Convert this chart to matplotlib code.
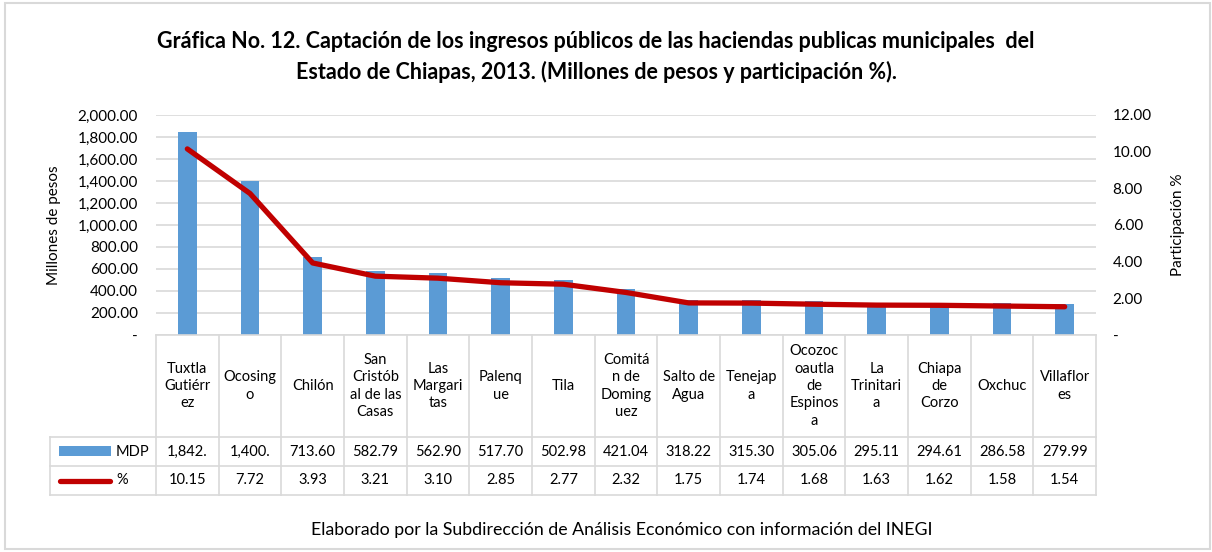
import matplotlib
matplotlib.use("Agg")
import matplotlib.pyplot as plt
from matplotlib.patches import Rectangle
from matplotlib.lines import Line2D

# data
municipios = ["Tuxtla\nGutiérr\nez", "Ocosing\no", "Chilón", "San\nCristób\nal de las\nCasas",
              "Las\nMargari\ntas", "Palenq\nue", "Tila", "Comitá\nn de\nDoming\nuez",
              "Salto de\nAgua", "Tenejap\na", "Ocozoc\noautla\nde\nEspinos\na",
              "La\nTrinitari\na", "Chiapa\nde\nCorzo", "Oxchuc", "Villaflor\nes"]
mdp = [1842.00, 1400.00, 713.60, 582.79, 562.90, 517.70, 502.98, 421.04,
       318.22, 315.30, 305.06, 295.11, 294.61, 286.58, 279.99]
pct = [10.15, 7.72, 3.93, 3.21, 3.10, 2.85, 2.77, 2.32, 1.75, 1.74, 1.68, 1.63, 1.62, 1.58, 1.54]
left_ticks = [0, 200, 400, 600, 800, 1000, 1200, 1400, 1600, 1800, 2000]
right_ticks = [0, 2, 4, 6, 8, 10, 12]

W, H = 1212, 552
BLUE = "#5B9BD5"
RED = "#C00000"
GRID = "#D9D9D9"
TXT = "#000000"
plt.rcParams["font.family"] = ["Lato", "DejaVu Sans"]

fig = plt.figure(figsize=(W / 100, H / 100), dpi=100)


def fx(px):
    return px / W


def fy(py):
    return 1 - py / H


# outer chart border
fig.add_artist(Rectangle((fx(5), fy(549)), fx(1205), 546 / H, transform=fig.transFigure,
                         fill=False, edgecolor="#D9D9D9", linewidth=1.5))

x0, x1, ytop, ybot = 156, 1096, 115, 335
ax = fig.add_axes([fx(x0), fy(ybot), fx(x1 - x0), (ybot - ytop) / H])
xs = list(range(len(mdp)))
ax.bar(xs, mdp, width=0.3, color=BLUE, zorder=2)
ax.set_xlim(-0.5, len(mdp) - 0.5)
ax.set_ylim(0, 2000)
ax.set_yticks(left_ticks)
ax.set_yticklabels(["-" if t == 0 else f"{t:,.2f}" for t in left_ticks])
ax.yaxis.grid(True, color=GRID, linewidth=1.2, zorder=0)
ax.set_axisbelow(True)
ax.set_xticks([])
ax.tick_params(axis="y", length=0, pad=13, labelsize=11, labelcolor=TXT)
for s in ax.spines.values():
    s.set_visible(False)
ax.set_ylabel("Millones de pesos", fontsize=11, labelpad=12, color=TXT)

ax2 = ax.twinx()
ax2.plot(xs, pct, color=RED, linewidth=3.8, solid_capstyle="round", solid_joinstyle="round", zorder=3)
ax2.set_ylim(0, 12)
ax2.set_yticks(right_ticks)
ax2.set_yticklabels(["-" if t == 0 else f"{t:.2f}" for t in right_ticks])
ax2.tick_params(axis="y", length=0, pad=12, labelsize=11, labelcolor=TXT)
for s in ax2.spines.values():
    s.set_visible(False)
ax2.set_ylabel("Participación %", fontsize=11, labelpad=14, color=TXT)

# data table below the plot
col_w = (x1 - x0) / len(mdp)
r0, r1, r2, r3 = 335, 437, 466, 495
lk = dict(transform=fig.transFigure, color=GRID, linewidth=1.2)
fig.add_artist(Line2D([fx(x0), fx(x1)], [fy(r0), fy(r0)], **lk))
for y in (r1, r2, r3):
    fig.add_artist(Line2D([fx(50), fx(x1)], [fy(y), fy(y)], **lk))
fig.add_artist(Line2D([fx(50), fx(50)], [fy(r1), fy(r3)], **lk))
for i in range(len(mdp) + 1):
    xc = x0 + i * col_w
    fig.add_artist(Line2D([fx(xc), fx(xc)], [fy(r0), fy(r3)], **lk))

tk = dict(transform=fig.transFigure, ha="center", va="center", fontsize=10.5, color=TXT)
for i, (name, v, p) in enumerate(zip(municipios, mdp, pct)):
    cx = fx(x0 + (i + 0.5) * col_w)
    fig.text(cx, fy((r0 + r1) / 2), name, linespacing=1.3, **tk)
    fig.text(cx, fy((r1 + r2) / 2), f"{v:,.2f}"[:6], **tk)
    fig.text(cx, fy((r2 + r3) / 2), f"{p:.2f}", **tk)

# legend keys in the table
fig.add_artist(Rectangle((fx(59), fy(456)), fx(52), 10 / H, transform=fig.transFigure,
                         facecolor=BLUE, edgecolor="none"))
fig.text(fx(116), fy(452), "MDP", transform=fig.transFigure, ha="left", va="center",
         fontsize=10.5, color=TXT)
fig.add_artist(Line2D([fx(60), fx(110)], [fy(481), fy(481)], transform=fig.transFigure,
                      color=RED, linewidth=3.8, solid_capstyle="round"))
fig.text(fx(116), fy(480), "%", transform=fig.transFigure, ha="left", va="center",
         fontsize=10.5, color=TXT)

fig.text(fx(596), fy(42), "Gráfica No. 12. Captación de los ingresos públicos de las haciendas publicas municipales  del",
         ha="center", va="center", fontsize=15.5, fontweight="bold", color=TXT)
fig.text(fx(596), fy(72), "Estado de Chiapas, 2013. (Millones de pesos y participación %).",
         ha="center", va="center", fontsize=15.5, fontweight="bold", color=TXT)
fig.text(fx(622), fy(530), "Elaborado por la Subdirección de Análisis Económico con información del INEGI",
         ha="center", va="center", fontsize=12.8, color=TXT)

fig.savefig("out.png", dpi=100)
